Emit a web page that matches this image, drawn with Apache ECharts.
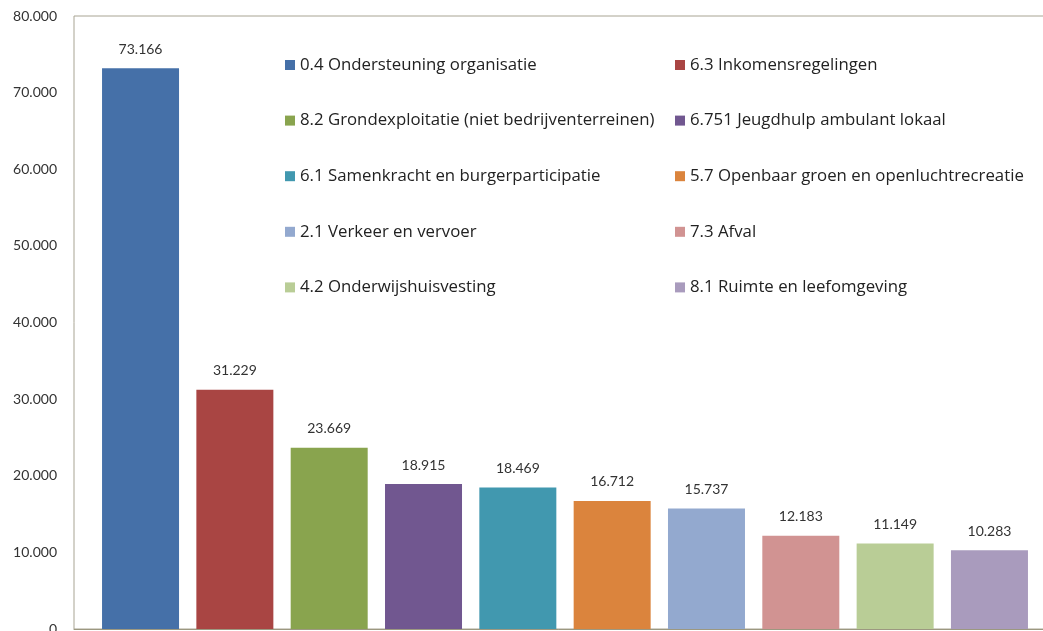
<!DOCTYPE html>
<html>
<head>
<meta charset="utf-8">
<script src="https://cdn.jsdelivr.net/npm/echarts@6/dist/echarts.min.js"></script>
<style>
html,body{margin:0;padding:0;background:#fff;}
#c{width:1043px;height:631px;}
</style>
</head>
<body>
<div id="c"></div>
<script>
const seriesNames = [
  '0.4 Ondersteuning organisatie',
  '6.3 Inkomensregelingen',
  '8.2 Grondexploitatie (niet bedrijventerreinen)',
  '6.751 Jeugdhulp ambulant lokaal',
  '6.1 Samenkracht en burgerparticipatie',
  '5.7 Openbaar groen en openluchtrecreatie',
  '2.1 Verkeer en vervoer',
  '7.3 Afval',
  '4.2 Onderwijshuisvesting',
  '8.1 Ruimte en leefomgeving'
];
const seriesValues = [73166, 31229, 23669, 18915, 18469, 16712, 15737, 12183, 11149, 10283];
const seriesColors = ['#4570A8','#A94543','#89A44E','#715790','#4198AF','#DB843D','#93A9CF','#D19392','#B9CD96','#A99BBD'];
const categories = [''];
const yTicks = { min: 0, max: 80000, interval: 10000 };

function fmt(v){
  return String(Math.round(v)).replace(/\B(?=(\d{3})+(?!\d))/g, '.');
}

const font = 'Lato';
const chart = echarts.init(document.getElementById('c'), null, {renderer:'canvas'});
const series = seriesNames.map((n,i)=>({
  name: n,
  type: 'bar',
  data: [seriesValues[i]],
  barWidth: 77,
  barGap: '22.5%',
  itemStyle: { color: seriesColors[i] },
  label: {
    show: true, position: 'top', distance: 12,
    formatter: p => fmt(p.value),
    fontFamily: font, fontSize: 14, color: '#333'
  }
}));
const col1 = seriesNames.filter((_,i)=>i%2===0);
const col2 = seriesNames.filter((_,i)=>i%2===1);
const legendCommon = {
  orient: 'vertical', top: 55, padding: 0, itemWidth: 10, itemHeight: 10, icon: 'rect',
  itemGap: 35.6, selectedMode: false,
  textStyle: { fontFamily: 'Open Sans', fontSize: 16.8, color: '#222', lineHeight: 20 }
};
chart.setOption({
  backgroundColor: '#fff',
  animation: false,
  grid: { left: 74, right: -13, top: 16, bottom: 2, outerBoundsMode: 'none', containLabel: false,
          show: true, borderColor: '#a8a493', borderWidth: 1 },
  legend: [
    Object.assign({}, legendCommon, { left: 285, data: col1 }),
    Object.assign({}, legendCommon, { left: 675, data: col2 })
  ],
  xAxis: {
    type: 'category', data: categories,
    axisLine: { show: true, lineStyle: { color: '#9c9880', width: 1 } },
    axisTick: { show: false }, axisLabel: { show: false }
  },
  yAxis: {
    type: 'value', min: yTicks.min, max: yTicks.max, interval: yTicks.interval,
    splitLine: { show: false },
    axisLine: { show: false }, axisTick: { show: false },
    axisLabel: { formatter: v => fmt(v), fontFamily: font, fontSize: 14, color: '#333', margin: 17 }
  },
  series: series
});
</script>
</body>
</html>
